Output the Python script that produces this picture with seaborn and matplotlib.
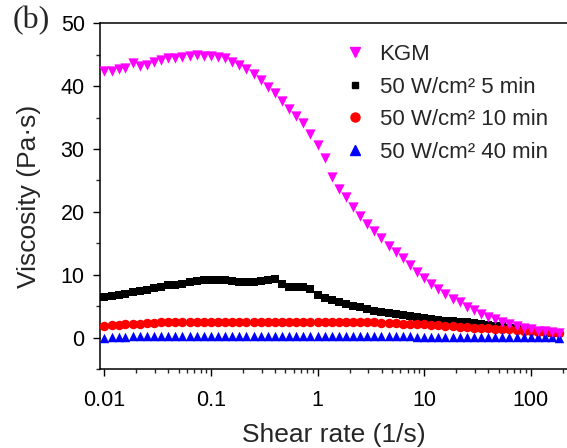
import numpy as np
import pandas as pd
import matplotlib
matplotlib.use("Agg")
import matplotlib.pyplot as plt
from matplotlib.ticker import LogLocator, FixedLocator, MultipleLocator, NullFormatter
from matplotlib.lines import Line2D
import seaborn as sns

# ---- data ----
shear_rate = [0.01, 0.0117, 0.0136, 0.0158, 0.0185, 0.0215, 0.0251, 0.0293, 0.0341, 0.0398,
              0.0464, 0.0541, 0.0631, 0.0736, 0.0858,
              0.1, 0.117, 0.136, 0.158, 0.185, 0.215, 0.251, 0.293, 0.341, 0.398,
              0.464, 0.541, 0.631, 0.736, 0.858,
              1.0, 1.17, 1.36, 1.58, 1.85, 2.15, 2.51, 2.93, 3.41, 3.98,
              4.64, 5.41, 6.31, 7.36, 8.58,
              10.0, 11.7, 13.6, 15.8, 18.5, 21.5, 25.1, 29.3, 34.1, 39.8,
              46.4, 54.1, 63.1, 73.6, 85.8,
              100.0, 117.0, 136.0, 158.0, 185.0]

kgm = [42.4, 42.4, 42.7, 42.9, 43.7, 43.2, 43.3, 43.9, 44.1, 44.4,
       44.4, 44.7, 44.8, 44.9, 44.8,
       44.8, 44.6, 44.4, 43.9, 43.3, 42.8, 42.0, 41.0, 39.9, 38.9,
       37.6, 36.3, 35.2, 34.1, 32.4,
       30.6, 28.6, 25.6, 23.7, 22.3, 20.7, 19.4, 18.1, 17.0, 15.9,
       14.6, 13.6, 12.6, 11.5, 10.4,
       9.5, 8.6, 7.8, 6.9, 6.1, 5.6, 4.9, 4.4, 3.8, 3.3,
       2.9, 2.5, 2.2, 1.8, 1.5,
       1.3, 1.1, 1.0, 0.9, 0.8]

w5min = [6.4, 6.6, 6.8, 7.0, 7.2, 7.4, 7.6, 7.9, 8.1, 8.3,
         8.4, 8.6, 8.8, 9.0, 9.1,
         9.2, 9.2, 9.2, 9.0, 8.9, 8.8, 8.8, 9.0, 9.2, 9.3,
         8.6, 8.1, 8.0, 8.0, 7.8,
         6.8, 6.3, 6.0, 5.6, 5.3, 5.1, 4.8, 4.5, 4.3, 4.1,
         3.9, 3.7, 3.6, 3.4, 3.2,
         3.1, 3.0, 2.8, 2.7, 2.6, 2.5, 2.4, 2.3, 2.2, 2.0,
         1.9, 1.8, 1.6, 1.5, 1.3,
         1.2, 1.0, 0.9, 0.8, 0.7]

w10min = [1.9, 2.0, 2.0, 2.1, 2.2, 2.2, 2.3, 2.3, 2.4, 2.4,
          2.4, 2.4, 2.45, 2.45, 2.45,
          2.45, 2.45, 2.45, 2.45, 2.45, 2.45, 2.45, 2.45, 2.45, 2.45,
          2.45, 2.45, 2.45, 2.45, 2.45,
          2.45, 2.45, 2.45, 2.45, 2.45, 2.45, 2.4, 2.4, 2.4, 2.35,
          2.3, 2.3, 2.2, 2.2, 2.1,
          2.1, 2.0, 1.95, 1.9, 1.8, 1.75, 1.7, 1.6, 1.55, 1.5,
          1.4, 1.35, 1.3, 1.2, 1.1,
          1.05, 0.95, 0.85, 0.8, 0.7]

w40min = [0.0, 0.05, 0.1, 0.15, 0.2, 0.25, 0.3, 0.3, 0.3, 0.3,
          0.3, 0.3, 0.3, 0.3, 0.3,
          0.3, 0.3, 0.3, 0.3, 0.3, 0.3, 0.3, 0.3, 0.3, 0.3,
          0.3, 0.3, 0.3, 0.3, 0.28,
          0.27, 0.26, 0.25, 0.25, 0.24, 0.23, 0.22, 0.22, 0.21, 0.2,
          0.2, 0.19, 0.18, 0.18, 0.17,
          0.16, 0.15, 0.15, 0.14, 0.13, 0.12, 0.12, 0.11, 0.1, 0.1,
          0.1, 0.09, 0.08, 0.07, 0.06,
          0.05, 0.04, 0.03, 0.02, 0.0]

labels = ["KGM", "50 W/cm\u00b2 5 min", "50 W/cm\u00b2 10 min", "50 W/cm\u00b2 40 min"]
x_ticks = [0.01, 0.1, 1, 10, 100]
x_tick_labels = ["0.01", "0.1", "1", "10", "100"]
y_ticks = [0, 10, 20, 30, 40, 50]

# ---- style ----
sns.set_theme(style="ticks")
plt.rcParams["font.family"] = ["Liberation Sans", "DejaVu Sans"]
plt.rcParams["axes.linewidth"] = 1.0

fig = plt.figure(figsize=(5.67, 4.48), dpi=100)
fig.patch.set_facecolor("white")
ax = fig.add_axes([100 / 567, 1 - 369 / 448, 467 / 567, (369 - 23.3) / 448])
ax.set_facecolor("white")

series = [
    (w5min, labels[1], "s", "#000000", 6.3),
    (w10min, labels[2], "o", "#ff0000", 6.8),
    (w40min, labels[3], "^", "#0000ff", 6.8),
    (kgm, labels[0], "v", "#ff00ff", 7.4),
]
for vals, lab, mk, col, ms in series:
    df = pd.DataFrame({"x": shear_rate, "y": vals})
    sns.scatterplot(data=df, x="x", y="y", marker=mk, color=col, s=ms ** 2,
                    linewidth=0, ax=ax, legend=False, zorder=3)

ax.set_xscale("log")
ax.set_xlim(0.00911, 219)
ax.set_ylim(-5, 50)

ax.xaxis.set_major_locator(FixedLocator(x_ticks))
ax.set_xticklabels(x_tick_labels)
ax.xaxis.set_minor_locator(LogLocator(base=10, subs=np.arange(2, 10)))
ax.xaxis.set_minor_formatter(NullFormatter())
ax.yaxis.set_major_locator(FixedLocator(y_ticks))
ax.yaxis.set_minor_locator(MultipleLocator(5))

ax.tick_params(axis="both", which="major", direction="out", length=5, width=1.0,
               labelsize=15.5, colors="black", pad=6)
ax.tick_params(axis="x", which="major", pad=10)
ax.tick_params(axis="both", which="minor", direction="out", length=3, width=1.0)
ax.tick_params(top=False, right=False, which="both")

for side in ["left", "bottom", "top"]:
    ax.spines[side].set_color("black")
    ax.spines[side].set_linewidth(1.1)
ax.spines["right"].set_visible(False)

ax.set_xlabel("Shear rate (1/s)", fontsize=19, labelpad=9)
ax.set_ylabel("Viscosity (Pa\u00b7s)", fontsize=19, labelpad=14)

handles = [
    Line2D([], [], linestyle="none", marker="v", color="#ff00ff", markersize=7.0),
    Line2D([], [], linestyle="none", marker="s", color="#000000", markersize=5.0),
    Line2D([], [], linestyle="none", marker="o", color="#ff0000", markersize=6.5),
    Line2D([], [], linestyle="none", marker="^", color="#0000ff", markersize=6.5),
]
ax.legend(handles=handles, labels=labels, loc="upper left",
          bbox_to_anchor=(0.5225, 0.94), frameon=False, fontsize=16,
          handlelength=1.0, handletextpad=0.6, labelspacing=0.52, borderpad=0,
          borderaxespad=0)

fig.text(13 / 567, 1 - 28 / 448, "(b)", fontsize=23, va="baseline", ha="left",
         family=["Liberation Serif", "DejaVu Serif"])

fig.savefig("out.png", dpi=100, facecolor="white")
